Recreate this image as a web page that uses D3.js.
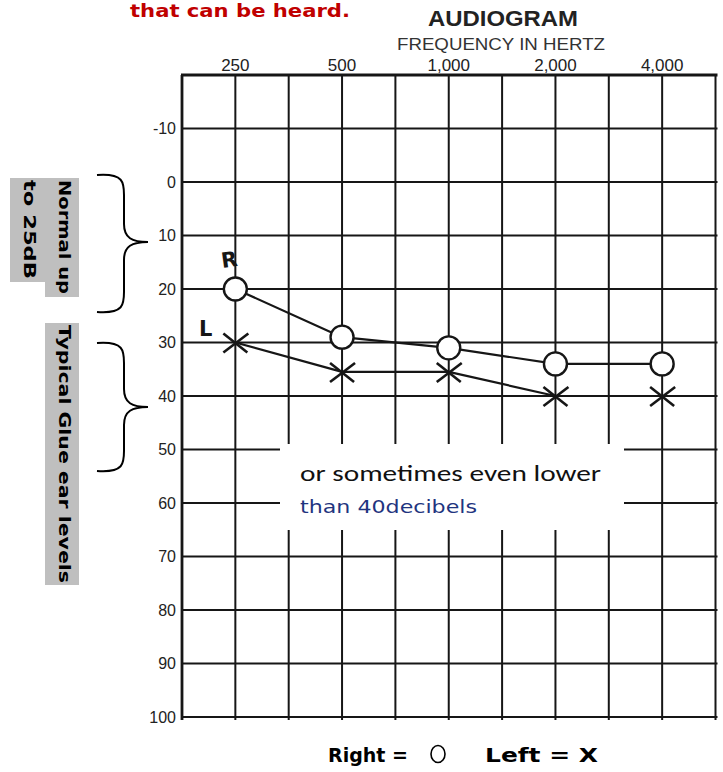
<!DOCTYPE html>
<html>
<head>
<meta charset="utf-8">
<script src="https://cdn.jsdelivr.net/npm/d3@7/dist/d3.min.js"></script>
<style>
  html, body { margin: 0; padding: 0; background: #ffffff; }
  svg { display: block; }
</style>
</head>
<body>
<svg id="chart" width="723" height="772"></svg>
<script>
// ---- data ----
const freqLabels = ["250", "500", "1,000", "2,000", "4,000"];
const rightEar = [20, 29, 31, 34, 34];        // circles (O)
const leftEar = [30, 35.5, 35.5, 40, 40];     // crosses (X)
const dbTicks = [-10, 0, 10, 20, 30, 40, 50, 60, 70, 80, 90, 100];
const dbDomain = [-20, 100];

// ---- layout ----
const svg = d3.select("#chart");
const plot = { left: 182, right: 715.5, top: 75, bottom: 717 };

const x = d3.scaleBand().domain(freqLabels).range([plot.left, plot.right]).padding(0);
const y = d3.scaleLinear().domain(dbDomain).range([plot.top, plot.bottom]);
const cx = d => x(d) + x.bandwidth() / 2;

const ink = "#161616";
const heavy = "'DejaVu Sans', 'Noto Sans', sans-serif";
const arial = "'Liberation Sans', Arial, Helvetica, sans-serif";

// top red text (cut at page top)
svg.append("text").attr("x", 130).attr("y", 17)
  .attr("font-family", heavy).attr("font-weight", "bold").attr("font-size", 18)
  .attr("fill", "#c00000").attr("textLength", 220).attr("lengthAdjust", "spacingAndGlyphs")
  .text("that can be heard.");

// titles
svg.append("text").attr("x", 503).attr("y", 26).attr("text-anchor", "middle")
  .attr("font-family", arial).attr("font-weight", "bold").attr("font-size", 22)
  .attr("fill", "#222").attr("textLength", 150).attr("lengthAdjust", "spacingAndGlyphs")
  .text("AUDIOGRAM");
svg.append("text").attr("x", 501).attr("y", 50).attr("text-anchor", "middle")
  .attr("font-family", arial).attr("font-size", 17)
  .attr("fill", "#333").attr("textLength", 208).attr("lengthAdjust", "spacingAndGlyphs")
  .text("FREQUENCY IN HERTZ");

// ---- grid ----
const g = svg.append("g");
const vLines = [];
freqLabels.forEach(f => { vLines.push(x(f)); vLines.push(cx(f)); });
vLines.push(plot.right);
g.selectAll("line.v").data(vLines).join("line").attr("class", "v")
  .attr("x1", d => d).attr("x2", d => d)
  .attr("y1", plot.top).attr("y2", plot.bottom + 3)
  .attr("stroke", ink).attr("stroke-width", 2);

g.selectAll("line.h").data(dbTicks).join("line").attr("class", "h")
  .attr("x1", plot.left).attr("x2", plot.right + 2)
  .attr("y1", d => y(d)).attr("y2", d => y(d))
  .attr("stroke", ink).attr("stroke-width", 1.8);

// top border (thick)
g.append("line").attr("x1", plot.left - 1).attr("x2", plot.right + 2)
  .attr("y1", plot.top).attr("y2", plot.top)
  .attr("stroke", ink).attr("stroke-width", 3.2);
// left border
g.append("line").attr("x1", plot.left).attr("x2", plot.left)
  .attr("y1", plot.top).attr("y2", plot.bottom + 3)
  .attr("stroke", ink).attr("stroke-width", 2.8);

// ---- axes ----
const xAxis = d3.axisTop(x).tickSize(0).tickPadding(4);
const xa = svg.append("g").attr("transform", `translate(0,${plot.top})`).call(xAxis);
xa.select(".domain").remove();
xa.selectAll("text").attr("font-family", arial).attr("font-size", 17).attr("fill", "#222");

const yAxis = d3.axisLeft(y).tickValues(dbTicks).tickSize(0).tickPadding(6)
  .tickFormat(d => String(d));
const ya = svg.append("g").attr("transform", `translate(${plot.left},0)`).call(yAxis);
ya.select(".domain").remove();
ya.selectAll("text").attr("font-family", arial).attr("font-size", 16).attr("fill", "#222");

// ---- annotation box ----
svg.append("rect").attr("x", 280).attr("y", 444).attr("width", 344).attr("height", 86)
  .attr("fill", "#ffffff");
svg.append("text").attr("x", 300).attr("y", 481)
  .attr("font-family", "Carlito, 'Open Sans', 'Liberation Sans', sans-serif").attr("font-size", 22)
  .attr("fill", "#111").attr("textLength", 301).attr("lengthAdjust", "spacingAndGlyphs")
  .text("or sometimes even lower");
svg.append("text").attr("x", 300).attr("y", 513)
  .attr("font-family", heavy).attr("font-size", 18)
  .attr("fill", "#1f3580").attr("textLength", 177).attr("lengthAdjust", "spacingAndGlyphs")
  .text("than 40decibels");

// ---- series ----
const lineGen = d3.line().x((d, i) => cx(freqLabels[i])).y(d => y(d));

svg.append("path").datum(leftEar).attr("d", lineGen)
  .attr("fill", "none").attr("stroke", ink).attr("stroke-width", 2.2)
  .attr("stroke-linejoin", "round");
svg.append("path").datum(rightEar).attr("d", lineGen)
  .attr("fill", "none").attr("stroke", ink).attr("stroke-width", 2.2)
  .attr("stroke-linejoin", "round");

svg.selectAll("circle.r").data(rightEar).join("circle").attr("class", "r")
  .attr("cx", (d, i) => cx(freqLabels[i])).attr("cy", d => y(d)).attr("r", 11.5)
  .attr("fill", "#ffffff").attr("stroke", ink).attr("stroke-width", 2.4);

const xMark = svg.selectAll("g.l").data(leftEar).join("g").attr("class", "l")
  .attr("transform", (d, i) => `translate(${cx(freqLabels[i])},${y(d)})`);
xMark.append("line").attr("x1", -12).attr("y1", -9).attr("x2", 12).attr("y2", 10)
  .attr("stroke", ink).attr("stroke-width", 2.6);
xMark.append("line").attr("x1", -12).attr("y1", 10).attr("x2", 13).attr("y2", -9)
  .attr("stroke", ink).attr("stroke-width", 2.6);

// handwritten R / L
svg.append("text").attr("x", 221).attr("y", 267)
  .attr("font-family", heavy).attr("font-weight", "bold").attr("font-size", 21).attr("fill", ink)
  .attr("transform", "rotate(-8,228,258)").text("R");
svg.append("text").attr("x", 199).attr("y", 336)
  .attr("font-family", heavy).attr("font-weight", "bold").attr("font-size", 21).attr("fill", ink)
  .text("L");

// ---- left labels (gray boxes, rotated) ----
svg.append("rect").attr("x", 45).attr("y", 178).attr("width", 34).attr("height", 119).attr("fill", "#bfbfbf");
svg.append("rect").attr("x", 10).attr("y", 178).attr("width", 35).attr("height", 104).attr("fill", "#bfbfbf");
svg.append("text").attr("transform", "translate(59,180) rotate(90)")
  .attr("font-family", heavy).attr("font-weight", "bold").attr("font-size", 16)
  .attr("fill", "#000").attr("textLength", 114).attr("lengthAdjust", "spacingAndGlyphs").text("Normal up");
svg.append("text").attr("transform", "translate(24,180) rotate(90)")
  .attr("font-family", heavy).attr("font-weight", "bold").attr("font-size", 16)
  .attr("fill", "#000").attr("textLength", 99).attr("lengthAdjust", "spacingAndGlyphs").text("to 25dB");

svg.append("rect").attr("x", 45).attr("y", 323).attr("width", 34).attr("height", 262).attr("fill", "#bfbfbf");
svg.append("text").attr("transform", "translate(59,325) rotate(90)")
  .attr("font-family", heavy).attr("font-weight", "bold").attr("font-size", 16)
  .attr("fill", "#000").attr("textLength", 258).attr("lengthAdjust", "spacingAndGlyphs").text("Typical Glue ear levels");

// braces
function brace(yTop, yMid, yBot) {
  const x0 = 97, x1 = 124, xp = 148;
  return `M${x0},${yTop} C${x1},${yTop - 2} ${x1},${yTop + 8} ${x1},${yTop + 20}` +
    ` L${x1},${yMid - 18} C${x1},${yMid - 4} ${x1 + 8},${yMid} ${xp},${yMid}` +
    ` C${x1 + 8},${yMid} ${x1},${yMid + 4} ${x1},${yMid + 18}` +
    ` L${x1},${yBot - 20} C${x1},${yBot - 8} ${x1},${yBot + 2} ${x0},${yBot}`;
}
svg.append("path").attr("d", brace(175, 242, 312))
  .attr("fill", "none").attr("stroke", "#000").attr("stroke-width", 2);
svg.append("path").attr("d", brace(343, 407, 471))
  .attr("fill", "none").attr("stroke", "#000").attr("stroke-width", 2);

// ---- legend ----
svg.append("text").attr("x", 328).attr("y", 762)
  .attr("font-family", heavy).attr("font-weight", "bold").attr("font-size", 20).attr("fill", "#000")
  .attr("textLength", 80).attr("lengthAdjust", "spacingAndGlyphs").text("Right =");
svg.append("ellipse").attr("cx", 438).attr("cy", 754).attr("rx", 7).attr("ry", 8.5)
  .attr("fill", "none").attr("stroke", "#000").attr("stroke-width", 1.6);
svg.append("text").attr("x", 485).attr("y", 762)
  .attr("font-family", heavy).attr("font-weight", "bold").attr("font-size", 20).attr("fill", "#000")
  .attr("textLength", 113).attr("lengthAdjust", "spacingAndGlyphs").text("Left = X");
</script>
</body>
</html>
